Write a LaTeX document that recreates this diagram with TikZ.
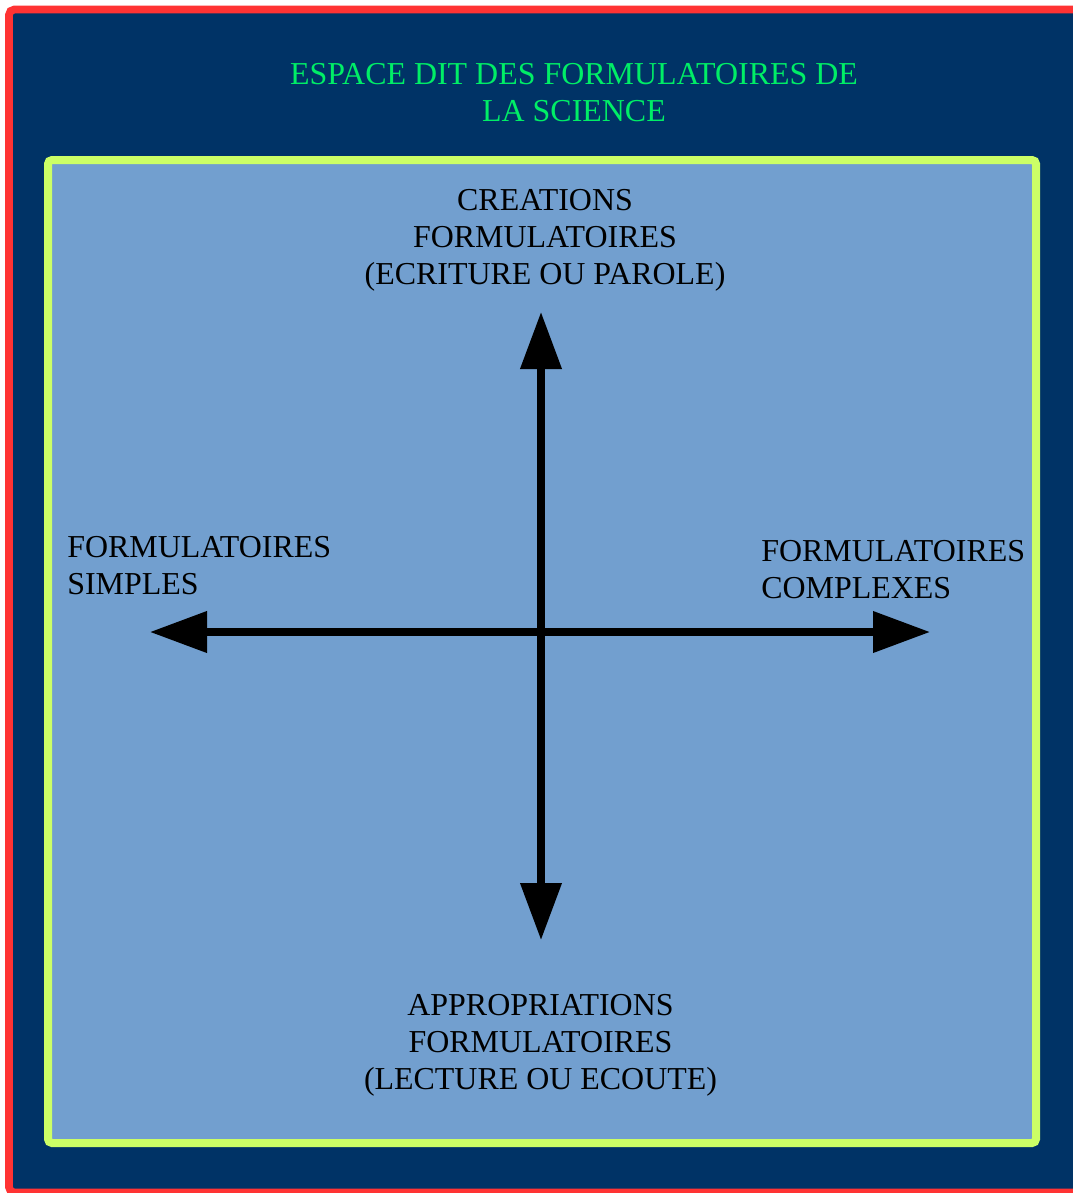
\documentclass[tikz,border=0pt]{standalone}
\usepackage{fontspec}
\setmainfont{Liberation Serif}
\usetikzlibrary{arrows.meta}
\definecolor{outerblue}{HTML}{003366}
\definecolor{innerblue}{HTML}{729FCF}
\definecolor{framegreen}{HTML}{CCFF66}
\definecolor{framered}{HTML}{FF3333}
\definecolor{titlegreen}{HTML}{00EE66}
\tikzset{
  lbl/.style={inner sep=0pt, font=\fontsize{23.95}{27.75}\selectfont},
  axis/.style={line width=5.4pt, {Triangle[length=42.75pt,width=30pt]}-{Triangle[length=42.75pt,width=30pt]}}
}
\begin{document}
\begin{tikzpicture}[x=0.75pt,y=-0.75pt]
\useasboundingbox (0,0) rectangle (1073,1193);
\fill[white] (0,0) rectangle (1073,1193);
\draw[framered, fill=outerblue, line width=5.8pt, rounded corners=4pt] (9,9.5) rectangle (1090,1192.5);
\draw[framegreen, fill=innerblue, line width=6pt, rounded corners=3pt] (48,160) rectangle (1036,1143);
\node[lbl, text=titlegreen, align=center, anchor=north] (title) at (574,63) {ESPACE DIT DES FORMULATOIRES DE\\LA SCIENCE};
\node[lbl, align=center, anchor=north] (crea) at (545,189) {CREATIONS\\FORMULATOIRES\\(ECRITURE OU PAROLE)};
\node[lbl, align=center, anchor=north] (appr) at (540.5,994) {APPROPRIATIONS\\FORMULATOIRES\\(LECTURE OU ECOUTE)};
\node[lbl, align=left, anchor=north west] (simp) at (67,536) {FORMULATOIRES\\SIMPLES};
\node[lbl, align=left, anchor=north west] (comp) at (761,540) {FORMULATOIRES\\COMPLEXES};
\coordinate (top) at (541,312);
\coordinate (bot) at (541,940);
\coordinate (lft) at (150,632);
\coordinate (rgt) at (930,632);
\draw[axis] (bot) -- (top);
\draw[axis] (lft) -- (rgt);
\end{tikzpicture}
\end{document}
